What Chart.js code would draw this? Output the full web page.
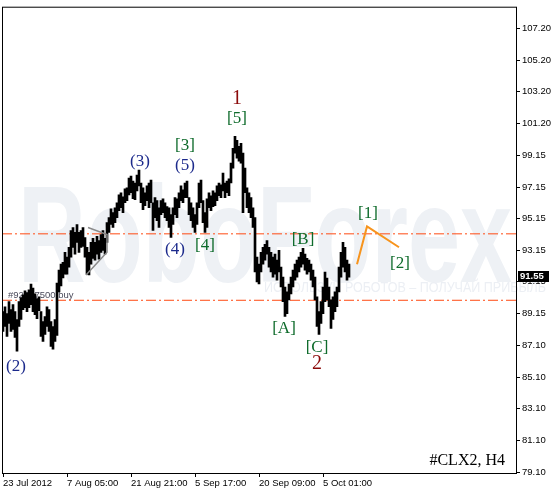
<!DOCTYPE html>
<html>
<head>
<meta charset="utf-8">
<script src="https://cdn.jsdelivr.net/npm/chart.js@4.4.1/dist/chart.umd.min.js"></script>
<style>
  html, body { margin: 0; padding: 0; background: #fff; }
  canvas { display: block; }
</style>
</head>
<body>
<canvas id="chart" width="556" height="492"></canvas>
<script>
// --- data (H4 bars, one entry per ~2px) ---
const barHighs = [
  89.26, 89.57, 89.13, 89.89, 89.39, 89.70, 89.26, 88.76, 89.89, 90.14,
  90.33, 90.58, 90.45, 90.64, 91.01, 90.76, 90.39, 90.08, 90.20, 89.26,
  88.63, 88.95, 89.57, 89.39, 88.63, 88.32, 88.76, 91.07, 91.89, 92.27,
  92.39, 93.02, 92.71, 93.33, 94.40, 94.59, 94.28, 94.78, 94.28, 94.40,
  94.59, 93.96, 93.33, 93.02, 93.65, 93.90, 93.65, 94.03, 93.77, 94.15,
  94.40, 93.90, 94.90, 95.22, 95.78, 95.53, 95.84, 96.16, 96.66, 96.79,
  96.54, 97.04, 97.10, 97.73, 97.85, 97.54, 97.41, 97.92, 98.23, 97.41,
  97.10, 96.79, 97.23, 97.41, 97.60, 96.16, 96.48, 96.29, 95.84, 96.29,
  96.41, 96.16, 95.91, 95.84, 95.41, 95.84, 96.48, 96.41, 96.79, 97.23,
  96.98, 97.41, 97.54, 96.48, 96.16, 95.84, 95.41, 96.16, 97.41, 97.60,
  96.29, 95.53, 96.41, 96.79, 96.60, 96.91, 96.79, 97.23, 97.41, 97.29,
  98.04, 97.41, 97.54, 97.67, 98.67, 99.61, 100.36, 100.11, 99.73, 99.92,
  99.30, 98.35, 97.10, 96.79, 96.48, 95.84, 95.22, 92.71, 92.27, 93.02,
  93.33, 93.52, 93.77, 93.33, 93.02, 92.71, 92.90, 92.52, 93.14, 92.08,
  91.45, 90.82, 90.51, 91.01, 91.45, 91.89, 92.27, 92.52, 92.71, 93.02,
  93.27, 92.90, 92.64, 92.52, 92.27, 91.89, 91.45, 90.20, 89.26, 89.89,
  90.82, 91.77, 91.39, 90.82, 90.01, 90.20, 90.51, 90.82, 92.08, 93.02,
  93.65, 93.33, 92.52, 92.27
];
const barLows = [
  88.00, 88.32, 87.69, 88.51, 88.00, 88.13, 87.63, 86.75, 88.32, 88.76,
  89.39, 89.51, 89.26, 89.51, 89.70, 89.26, 89.07, 88.82, 89.32, 87.69,
  87.38, 87.82, 88.32, 88.00, 87.06, 86.88, 87.38, 87.75, 90.51, 90.89,
  91.39, 91.64, 91.64, 92.08, 92.71, 93.33, 92.90, 93.65, 93.02, 93.33,
  93.40, 92.71, 91.64, 91.58, 92.27, 92.64, 92.52, 92.90, 92.58, 93.02,
  93.14, 92.90, 93.65, 94.28, 94.78, 94.59, 94.90, 95.22, 95.65, 95.84,
  95.53, 96.16, 96.29, 96.66, 96.79, 96.41, 96.35, 96.91, 97.23, 96.16,
  95.72, 95.97, 96.29, 95.84, 96.16, 94.40, 95.22, 95.03, 94.59, 95.41,
  95.53, 95.22, 95.03, 94.59, 93.96, 94.78, 95.41, 95.22, 95.84, 96.29,
  96.16, 96.48, 96.48, 95.41, 95.03, 94.59, 94.28, 94.78, 95.84, 96.16,
  94.90, 94.28, 94.59, 95.84, 95.65, 95.91, 95.97, 96.29, 96.60, 96.48,
  96.91, 96.48, 96.79, 96.60, 97.41, 98.35, 99.30, 98.98, 98.79, 98.67,
  95.53, 96.79, 95.84, 95.53, 95.22, 94.59, 91.77, 91.14, 91.01, 91.77,
  92.27, 92.52, 92.90, 92.08, 91.77, 91.45, 91.64, 91.26, 91.77, 90.82,
  89.89, 88.95, 89.13, 90.01, 90.39, 90.82, 91.26, 91.45, 91.77, 92.08,
  92.27, 91.89, 91.64, 91.77, 91.26, 90.82, 90.01, 88.32, 87.82, 88.51,
  89.13, 89.89, 90.01, 89.57, 88.19, 88.76, 89.26, 89.57, 90.51, 91.45,
  92.08, 91.77, 91.26, 91.45
];
const lastPrice = 91.55;

// axis ticks
const yTickValues = [107.20, 105.20, 103.20, 101.20, 99.15, 97.15, 95.15, 93.15,
  91.15, 89.15, 87.10, 85.10, 83.10, 81.10, 79.10];
const xTickIndex = [0, 32, 64, 96, 128, 160];
const xTickLabels = ["23 Jul 2012", "7 Aug 05:00", "21 Aug 21:00", "5 Sep 17:00",
  "20 Sep 09:00", "5 Oct 01:00"];

// horizontal order levels (dash-dot)
const orderLevels = [94.19, 89.98];
const orderLabel = "#92547500 buy";

// wave marks: text, bar index, price, kind
const waveText  = ["1", "[5]", "[3]", "(5)", "(3)", "(4)", "[4]", "(2)", "[B]", "[A]", "[C]", "2", "[1]", "[2]"];
const waveIndex = [117, 117, 91, 91, 68.5, 86, 101, 6.5, 150, 140.5, 157, 157, 182.5, 198.5];
const wavePrice = [102.75, 101.49, 99.80, 98.54, 98.80, 93.21, 93.46, 85.81, 93.84, 88.20, 87.00, 85.94, 95.47, 92.33];
const waveKind  = ["major", "minor", "minor", "inter", "inter", "inter", "minor", "inter", "minor", "minor", "minor", "major", "minor", "minor"];

// forecast path and triangle
const forecastIndex = [177, 182, 198];
const forecastPrice = [92.27, 94.66, 93.34];
const triangleIndex = [42.5, 52, 52, 41.5];
const trianglePrice = [94.59, 94.15, 93.02, 91.58];

const X_MIN = -0.5, X_MAX = 256.5;
const Y_MIN = 79.037, Y_MAX = 108.517;

const waveColors = { major: "#8b0a0a", minor: "#0e6b2b", inter: "#1c2a8c" };
const axisFont = '9.5px "Liberation Sans", Arial, sans-serif';

const bars = barHighs.map((h, i) => ({ x: i, y: [barLows[i], h] }));
const toPoints = (xs, ys) => xs.map((x, i) => ({ x: x, y: ys[i] }));

const levelSets = orderLevels.map((lv) => ({
  type: "line",
  data: [{ x: X_MIN, y: lv }, { x: X_MAX, y: lv }],
  borderColor: "#ff4a12",
  borderWidth: 1,
  borderDash: [10, 3, 2, 3],
  pointRadius: 0,
  order: 3,
}));

const backgroundPlugin = {
  id: "background",
  beforeDraw(chart) {
    const ctx = chart.ctx;
    ctx.save();
    ctx.fillStyle = "#fff";
    ctx.fillRect(0, 0, chart.width, chart.height);

    // watermark
    ctx.fillStyle = "#eef1f5";
    ctx.font = 'bold 138px "Liberation Sans", Arial, sans-serif';
    ctx.textBaseline = "alphabetic";
    const w = ctx.measureText("RoboForex").width;
    ctx.save();
    ctx.translate(18, 282);
    ctx.scale(494 / w, 1);
    ctx.fillText("RoboForex", 0, 0);
    ctx.restore();

    ctx.fillStyle = "#eceff4";
    ctx.font = '14px "Liberation Sans", Arial, sans-serif';
    const sub = "ИСПОЛЬЗУЙ РОБОТОВ – ПОЛУЧАЙ ПРИБЫЛЬ";
    const sw = ctx.measureText(sub).width;
    ctx.translate(264, 292);
    ctx.scale(282 / sw, 1);
    ctx.fillText(sub, 0, 0);
    ctx.restore();
  },
  beforeDatasetsDraw(chart) {
    const ctx = chart.ctx;
    const y = chart.scales.y.getPixelForValue(orderLevels[1]);
    ctx.save();
    ctx.fillStyle = "#4a4a5a";
    ctx.font = axisFont;
    ctx.textBaseline = "alphabetic";
    ctx.fillText(orderLabel, 8, y - 2);
    ctx.restore();
  },
};

const labelsPlugin = {
  id: "labels",
  afterDatasetsDraw(chart) {
    const { ctx, scales } = chart;
    ctx.save();
    ctx.textAlign = "center";
    ctx.textBaseline = "middle";
    waveText.forEach((t, i) => {
      const kind = waveKind[i];
      ctx.fillStyle = waveColors[kind];
      ctx.font = (kind === "major" ? "20px" : "17px") + ' "Liberation Serif", "Times New Roman", serif';
      ctx.fillText(t, scales.x.getPixelForValue(waveIndex[i]), scales.y.getPixelForValue(wavePrice[i]));
    });
    ctx.restore();
  },
  afterDraw(chart) {
    const { ctx, chartArea, scales } = chart;
    ctx.save();
    // frame
    ctx.strokeStyle = "#000";
    ctx.lineWidth = 1;
    ctx.strokeRect(chartArea.left + 0.5, chartArea.top - 0.5,
      chartArea.right - chartArea.left, chartArea.bottom - chartArea.top + 1);

    // symbol caption
    ctx.fillStyle = "#000";
    ctx.font = '16px "Liberation Serif", "Times New Roman", serif';
    ctx.textAlign = "right";
    ctx.textBaseline = "alphabetic";
    ctx.fillText("#CLX2, H4", chartArea.right - 11, chartArea.bottom - 8);

    // last price box
    const py = Math.round(scales.y.getPixelForValue(lastPrice));
    ctx.fillStyle = "#000";
    ctx.fillRect(chartArea.right + 2, py - 5, 31, 11);
    ctx.fillStyle = "#fff";
    ctx.font = 'bold ' + axisFont;
    ctx.textAlign = "left";
    ctx.textBaseline = "middle";
    ctx.fillText(lastPrice.toFixed(2), chartArea.right + 4, py + 0.5);
    ctx.restore();
  },
};

new Chart(document.getElementById("chart"), {
  type: "bar",
  data: {
    datasets: [
      {
        type: "bar",
        data: bars,
        backgroundColor: "#000",
        borderWidth: 0,
        barThickness: 2,
        order: 2,
      },
      ...levelSets,
      {
        type: "line",
        data: toPoints(triangleIndex, trianglePrice),
        borderColor: "#8a8a8a",
        borderWidth: 1.5,
        pointRadius: 0,
        order: 1,
      },
      {
        type: "line",
        data: toPoints(forecastIndex, forecastPrice),
        borderColor: "#f7941d",
        borderWidth: 2,
        pointRadius: 0,
        order: 1,
      },
    ],
  },
  options: {
    responsive: false,
    animation: false,
    devicePixelRatio: 1,
    layout: { padding: { left: 2, top: 3, right: 0, bottom: 0 } },
    plugins: { legend: { display: false }, tooltip: { enabled: false } },
    scales: {
      x: {
        type: "linear",
        min: X_MIN,
        max: X_MAX,
        offset: false,
        afterFit: (scale) => { scale.height = 19; },
        afterBuildTicks: (scale) => { scale.ticks = xTickIndex.map((v) => ({ value: v })); },
        grid: { drawOnChartArea: false, offset: false, tickLength: 4, color: "#000" },
        border: { display: false },
        ticks: {
          autoSkip: false,
          maxRotation: 0,
          align: "start",
          padding: 1,
          color: "#000",
          font: { family: '"Liberation Sans", Arial, sans-serif', size: 9.5 },
          callback: (value) => xTickLabels[xTickIndex.indexOf(value)] || "",
        },
      },
      y: {
        position: "right",
        min: Y_MIN,
        max: Y_MAX,
        afterFit: (scale) => { scale.width = 40; },
        afterBuildTicks: (scale) => { scale.ticks = yTickValues.map((v) => ({ value: v })); },
        grid: { drawOnChartArea: false, tickLength: 4, color: "#000" },
        border: { display: false },
        ticks: {
          autoSkip: false,
          padding: 2,
          color: "#000",
          font: { family: '"Liberation Sans", Arial, sans-serif', size: 9.5 },
          callback: (value) => value.toFixed(2),
        },
      },
    },
  },
  plugins: [backgroundPlugin, labelsPlugin],
});
</script>
</body>
</html>
